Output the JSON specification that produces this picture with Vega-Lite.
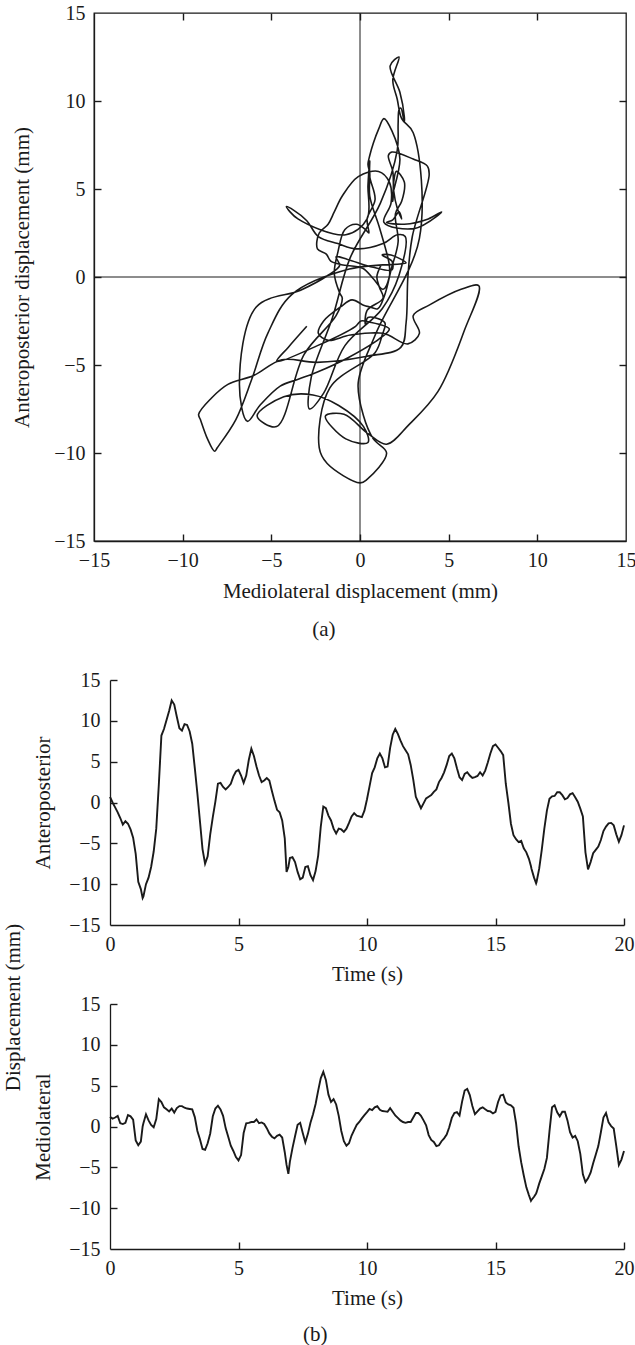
{
  "$schema": "https://vega.github.io/schema/vega-lite/v6.json",
  "padding": {"left": 2, "top": 2, "right": 0, "bottom": 0},
  "background": "white",
  "config": {
    "font": "Liberation Serif",
    "view": {"stroke": null},
    "axis": {
      "labelFont": "Liberation Serif", "titleFont": "Liberation Serif",
      "labelFontSize": 20, "titleFontSize": 21, "titleFontWeight": "normal",
      "labelColor": "#1a1a1a", "titleColor": "#1a1a1a",
      "domainColor": "#1a1a1a", "tickColor": "#1a1a1a",
      "domainWidth": 1.3, "tickWidth": 1.4,
      "labelFlush": false, "grid": false
    },
    "title": {"font": "Liberation Serif", "fontSize": 21, "fontWeight": "normal", "color": "#1a1a1a"}
  },
  "datasets": {
    "sway": [
      {"t":0.0,"ap":0.7,"ml":1.2},{"t":0.1,"ap":0.0,"ml":0.95},{"t":0.2,"ap":-0.6,"ml":1.1},{"t":0.3,"ap":-1.2,"ml":1.3},
      {"t":0.4,"ap":-1.9,"ml":0.4},{"t":0.5,"ap":-2.7,"ml":0.3},{"t":0.6,"ap":-2.3,"ml":0.45},{"t":0.7,"ap":-2.6,"ml":1.4},
      {"t":0.8,"ap":-3.3,"ml":1.25},{"t":0.9,"ap":-4.3,"ml":0.85},{"t":1.0,"ap":-6.3,"ml":-1.7},{"t":1.1,"ap":-9.7,"ml":-2.3},
      {"t":1.2,"ap":-10.6,"ml":-1.85},{"t":1.27,"ap":-11.7,"ml":0.0},{"t":1.3,"ap":-11.5,"ml":0.4},{"t":1.4,"ap":-10.0,"ml":1.5},
      {"t":1.5,"ap":-9.2,"ml":0.75},{"t":1.6,"ap":-7.9,"ml":0.2},{"t":1.7,"ap":-6.0,"ml":-0.1},{"t":1.8,"ap":-3.2,"ml":0.9},
      {"t":1.9,"ap":2.2,"ml":3.35},{"t":2.0,"ap":8.2,"ml":3.0},{"t":2.1,"ap":9.0,"ml":2.35},{"t":2.2,"ap":10.1,"ml":2.1},
      {"t":2.3,"ap":11.2,"ml":1.85},{"t":2.4,"ap":12.5,"ml":2.2},{"t":2.5,"ap":12.0,"ml":1.7},{"t":2.6,"ap":10.5,"ml":2.25},
      {"t":2.7,"ap":9.1,"ml":2.5},{"t":2.8,"ap":8.8,"ml":2.5},{"t":2.9,"ap":9.6,"ml":2.3},{"t":3.0,"ap":9.5,"ml":2.2},
      {"t":3.1,"ap":8.7,"ml":2.15},{"t":3.2,"ap":7.2,"ml":2.1},{"t":3.3,"ap":4.2,"ml":1.15},{"t":3.4,"ap":1.1,"ml":-0.55},
      {"t":3.5,"ap":-2.3,"ml":-1.55},{"t":3.6,"ap":-5.7,"ml":-2.75},{"t":3.7,"ap":-7.5,"ml":-2.85},{"t":3.8,"ap":-6.6,"ml":-2.05},
      {"t":3.9,"ap":-3.9,"ml":-0.85},{"t":4.0,"ap":-1.8,"ml":1.25},{"t":4.1,"ap":0.1,"ml":2.2},{"t":4.2,"ap":2.3,"ml":2.55},
      {"t":4.3,"ap":2.4,"ml":2.1},{"t":4.4,"ap":1.9,"ml":1.3},{"t":4.5,"ap":1.6,"ml":-0.2},{"t":4.6,"ap":1.9,"ml":-1.25},
      {"t":4.7,"ap":2.3,"ml":-2.35},{"t":4.8,"ap":3.2,"ml":-3.0},{"t":4.9,"ap":3.8,"ml":-3.75},{"t":5.0,"ap":4.0,"ml":-4.15},
      {"t":5.1,"ap":3.3,"ml":-3.5},{"t":5.2,"ap":2.4,"ml":-0.8},{"t":5.3,"ap":3.3,"ml":0.4},{"t":5.4,"ap":5.2,"ml":0.45},
      {"t":5.5,"ap":6.6,"ml":0.55},{"t":5.6,"ap":5.7,"ml":0.55},{"t":5.7,"ap":4.4,"ml":0.85},{"t":5.8,"ap":3.3,"ml":0.4},
      {"t":5.9,"ap":2.5,"ml":0.5},{"t":6.0,"ap":2.7,"ml":0.3},{"t":6.1,"ap":3.0,"ml":-0.2},{"t":6.2,"ap":2.7,"ml":-0.85},
      {"t":6.3,"ap":1.4,"ml":-1.25},{"t":6.4,"ap":0.2,"ml":-1.45},{"t":6.5,"ap":-0.9,"ml":-1.15},{"t":6.6,"ap":-1.2,"ml":-1.0},
      {"t":6.7,"ap":-2.2,"ml":-1.35},{"t":6.8,"ap":-4.4,"ml":-3.15},{"t":6.87,"ap":-8.5,"ml":-4.7},{"t":6.94,"ap":-7.9,"ml":-5.8},
      {"t":7.0,"ap":-6.8,"ml":-4.3},{"t":7.1,"ap":-6.7,"ml":-2.65},{"t":7.2,"ap":-7.3,"ml":-1.2},{"t":7.3,"ap":-8.5,"ml":0.2},
      {"t":7.4,"ap":-9.4,"ml":0.45},{"t":7.5,"ap":-9.2,"ml":-0.8},{"t":7.6,"ap":-7.9,"ml":-1.95},{"t":7.7,"ap":-7.8,"ml":-0.9},
      {"t":7.8,"ap":-8.9,"ml":0.45},{"t":7.9,"ap":-9.5,"ml":1.5},{"t":8.0,"ap":-8.4,"ml":2.75},{"t":8.1,"ap":-6.5,"ml":4.4},
      {"t":8.2,"ap":-3.0,"ml":5.9},{"t":8.3,"ap":-0.5,"ml":6.7},{"t":8.4,"ap":-0.7,"ml":5.7},{"t":8.5,"ap":-1.6,"ml":3.9},
      {"t":8.6,"ap":-2.2,"ml":3.0},{"t":8.7,"ap":-3.2,"ml":3.35},{"t":8.8,"ap":-3.8,"ml":2.7},{"t":8.9,"ap":-3.2,"ml":1.3},
      {"t":9.0,"ap":-3.3,"ml":-0.55},{"t":9.1,"ap":-3.6,"ml":-1.8},{"t":9.2,"ap":-3.2,"ml":-2.35},{"t":9.3,"ap":-2.5,"ml":-2.05},
      {"t":9.4,"ap":-1.7,"ml":-1.1},{"t":9.5,"ap":-1.3,"ml":-0.45},{"t":9.6,"ap":-1.6,"ml":0.2},{"t":9.7,"ap":-1.7,"ml":0.55},
      {"t":9.8,"ap":-1.8,"ml":1.0},{"t":9.9,"ap":-1.0,"ml":1.4},{"t":10.0,"ap":0.4,"ml":1.75},{"t":10.1,"ap":2.0,"ml":2.15},
      {"t":10.2,"ap":3.6,"ml":2.0},{"t":10.3,"ap":4.3,"ml":2.35},{"t":10.4,"ap":5.4,"ml":2.5},{"t":10.5,"ap":6.0,"ml":2.05},
      {"t":10.6,"ap":5.4,"ml":1.9},{"t":10.7,"ap":4.3,"ml":1.85},{"t":10.8,"ap":4.4,"ml":1.8},{"t":10.9,"ap":6.7,"ml":2.25},
      {"t":11.0,"ap":8.3,"ml":1.8},{"t":11.1,"ap":9.0,"ml":1.35},{"t":11.2,"ap":8.4,"ml":1.05},{"t":11.3,"ap":7.6,"ml":0.75},
      {"t":11.4,"ap":6.9,"ml":0.55},{"t":11.5,"ap":6.4,"ml":0.45},{"t":11.6,"ap":5.9,"ml":0.55},{"t":11.7,"ap":4.6,"ml":0.55},
      {"t":11.8,"ap":2.8,"ml":1.1},{"t":11.9,"ap":0.7,"ml":1.65},{"t":12.0,"ap":0.0,"ml":1.65},{"t":12.1,"ap":-0.7,"ml":1.3},
      {"t":12.2,"ap":-0.1,"ml":0.75},{"t":12.3,"ap":0.5,"ml":0.15},{"t":12.4,"ap":0.7,"ml":-1.05},{"t":12.5,"ap":0.9,"ml":-1.65},
      {"t":12.6,"ap":1.3,"ml":-1.9},{"t":12.7,"ap":1.6,"ml":-2.4},{"t":12.8,"ap":2.5,"ml":-2.3},{"t":12.9,"ap":3.0,"ml":-1.8},
      {"t":13.0,"ap":3.7,"ml":-1.45},{"t":13.1,"ap":4.6,"ml":-1.0},{"t":13.2,"ap":5.7,"ml":-0.1},{"t":13.3,"ap":6.0,"ml":1.05},
      {"t":13.4,"ap":5.4,"ml":1.65},{"t":13.5,"ap":4.2,"ml":1.75},{"t":13.6,"ap":3.1,"ml":1.35},{"t":13.7,"ap":2.75,"ml":3.05},
      {"t":13.8,"ap":3.5,"ml":4.4},{"t":13.9,"ap":3.7,"ml":4.6},{"t":14.0,"ap":3.3,"ml":3.85},{"t":14.1,"ap":3.0,"ml":2.5},
      {"t":14.2,"ap":3.1,"ml":1.5},{"t":14.3,"ap":3.25,"ml":1.85},{"t":14.4,"ap":3.7,"ml":2.2},{"t":14.5,"ap":3.3,"ml":2.35},
      {"t":14.6,"ap":3.9,"ml":2.1},{"t":14.7,"ap":4.9,"ml":1.9},{"t":14.8,"ap":6.0,"ml":1.85},{"t":14.9,"ap":6.9,"ml":1.6},
      {"t":15.0,"ap":7.1,"ml":1.8},{"t":15.1,"ap":6.7,"ml":3.0},{"t":15.2,"ap":6.3,"ml":3.8},{"t":15.3,"ap":5.8,"ml":3.9},
      {"t":15.4,"ap":2.3,"ml":2.95},{"t":15.5,"ap":0.0,"ml":2.7},{"t":15.6,"ap":-2.6,"ml":2.6},{"t":15.7,"ap":-4.0,"ml":2.3},
      {"t":15.8,"ap":-4.5,"ml":0.4},{"t":15.9,"ap":-4.85,"ml":-2.45},{"t":16.0,"ap":-4.7,"ml":-4.4},{"t":16.1,"ap":-5.6,"ml":-6.0},
      {"t":16.2,"ap":-6.1,"ml":-7.45},{"t":16.3,"ap":-6.9,"ml":-8.4},{"t":16.38,"ap":-7.8,"ml":-9.1},{"t":16.4,"ap":-8.1,"ml":-9.0},
      {"t":16.5,"ap":-9.2,"ml":-8.6},{"t":16.58,"ap":-9.9,"ml":-8.2},{"t":16.6,"ap":-9.7,"ml":-8.05},{"t":16.7,"ap":-8.1,"ml":-7.0},
      {"t":16.8,"ap":-5.8,"ml":-6.1},{"t":16.9,"ap":-3.2,"ml":-5.2},{"t":17.0,"ap":-1.0,"ml":-3.85},{"t":17.1,"ap":0.45,"ml":-0.6},
      {"t":17.2,"ap":0.75,"ml":2.35},{"t":17.3,"ap":0.8,"ml":2.6},{"t":17.4,"ap":1.25,"ml":1.75},{"t":17.5,"ap":1.25,"ml":1.25},
      {"t":17.6,"ap":0.9,"ml":1.8},{"t":17.7,"ap":0.4,"ml":1.8},{"t":17.8,"ap":0.55,"ml":0.75},{"t":17.9,"ap":1.0,"ml":-0.7},
      {"t":18.0,"ap":1.15,"ml":-1.35},{"t":18.1,"ap":0.65,"ml":-1.15},{"t":18.2,"ap":0.1,"ml":-1.8},{"t":18.3,"ap":-0.75,"ml":-3.35},
      {"t":18.4,"ap":-1.7,"ml":-5.85},{"t":18.5,"ap":-6.1,"ml":-6.8},{"t":18.6,"ap":-8.2,"ml":-6.35},{"t":18.7,"ap":-7.3,"ml":-5.65},
      {"t":18.8,"ap":-6.2,"ml":-4.5},{"t":18.9,"ap":-5.8,"ml":-3.45},{"t":19.0,"ap":-5.4,"ml":-2.4},{"t":19.1,"ap":-4.6,"ml":-0.7},
      {"t":19.2,"ap":-3.5,"ml":1.1},{"t":19.3,"ap":-2.95,"ml":1.65},{"t":19.4,"ap":-2.55,"ml":0.5},{"t":19.5,"ap":-2.5,"ml":0.05},
      {"t":19.6,"ap":-2.8,"ml":-0.25},{"t":19.7,"ap":-3.9,"ml":-2.4},{"t":19.8,"ap":-4.8,"ml":-4.7},{"t":19.9,"ap":-4.0,"ml":-4.05},
      {"t":20.0,"ap":-2.8,"ml":-3.0}
    ]
  },
  "spacing": 29,
  "vconcat": [
    {
      "width": 532,
      "height": 528,
      "view": {"stroke": "#1a1a1a", "strokeWidth": 1.3},
      "title": {"text": "(a)", "orient": "bottom", "anchor": "middle", "frame": "bounds", "offset": 18},
      "layer": [
        {
          "data": {"values": [{}]},
          "mark": {"type": "rule", "color": "#1a1a1a", "strokeWidth": 1},
          "encoding": {
            "x": {"datum": 0, "type": "quantitative", "scale": {"domain": [-15, 15], "nice": false, "zero": false}, "axis": null}
          }
        },
        {
          "data": {"values": [{}]},
          "mark": {"type": "rule", "color": "#1a1a1a", "strokeWidth": 1},
          "encoding": {
            "y": {"datum": 0, "type": "quantitative", "scale": {"domain": [-15, 15], "nice": false, "zero": false}, "axis": null}
          }
        },
        {
          "data": {"name": "sway"},
          "mark": {"type": "line", "color": "#1a1a1a", "strokeWidth": 1.6, "interpolate": "catmull-rom"},
          "encoding": {
            "x": {
              "field": "ml", "type": "quantitative",
              "scale": {"domain": [-15, 15], "nice": false, "zero": false},
              "axis": {"ticks": false, "labelPadding": 9, "values": [-15, -10, -5, 0, 5, 10, 15], "title": "Mediolateral displacement (mm)", "titlePadding": 10}
            },
            "y": {
              "field": "ap", "type": "quantitative",
              "scale": {"domain": [-15, 15], "nice": false, "zero": false},
              "axis": {"ticks": false, "labelPadding": 9, "values": [-15, -10, -5, 0, 5, 10, 15], "title": "Anteroposterior displacement (mm)", "titlePadding": 21}
            },
            "order": {"field": "t", "type": "quantitative"}
          }
        },
        {
          "data": {"name": "sway"},
          "mark": {"type": "line", "opacity": 0},
          "encoding": {
            "x": {
              "field": "ml", "type": "quantitative",
              "scale": {"domain": [-15, 15], "nice": false, "zero": false},
              "axis": {"offset": -7, "tickSize": 7, "labels": false, "domain": false, "title": null, "values": [-10, -5, 0, 5, 10]}
            },
            "y": {
              "field": "ap", "type": "quantitative",
              "scale": {"domain": [-15, 15], "nice": false, "zero": false},
              "axis": {"offset": -7, "tickSize": 7, "labels": false, "domain": false, "title": null, "values": [-10, -5, 0, 5, 10]}
            },
            "order": {"field": "t", "type": "quantitative"}
          }
        },
        {
          "data": {"name": "sway"},
          "mark": {"type": "line", "opacity": 0},
          "encoding": {
            "x": {
              "field": "ml", "type": "quantitative",
              "scale": {"domain": [-15, 15], "nice": false, "zero": false},
              "axis": {"offset": -528, "tickSize": 7, "labels": false, "domain": false, "title": null, "values": [-10, -5, 0, 5, 10]}
            },
            "y": {
              "field": "ap", "type": "quantitative",
              "scale": {"domain": [-15, 15], "nice": false, "zero": false},
              "axis": {"offset": -532, "tickSize": 7, "labels": false, "domain": false, "title": null, "values": [-10, -5, 0, 5, 10]}
            },
            "order": {"field": "t", "type": "quantitative"}
          }
        }
      ],
      "resolve": {"axis": {"x": "independent", "y": "independent"}}
    },
    {
      "title": {"text": "Displacement (mm)", "orient": "left", "anchor": "middle", "offset": 9},
      "spacing": 10,
      "vconcat": [
        {
          "width": 530,
          "height": 245,
          "data": {"name": "sway"},
          "layer": [
            {
              "mark": {"type": "line", "color": "#1a1a1a", "strokeWidth": 1.9},
              "encoding": {
                "x": {
                  "field": "t", "type": "quantitative",
                  "scale": {"domain": [0, 20], "range": [16, 530], "nice": false, "zero": false},
                  "axis": {"ticks": false, "labelPadding": 9, "values": [0, 5, 10, 15, 20], "title": "Time (s)", "titlePadding": 9}
                },
                "y": {
                  "field": "ap", "type": "quantitative",
                  "scale": {"domain": [-15, 15], "nice": false, "zero": false},
                  "axis": {"ticks": false, "labelPadding": 10, "offset": -16, "values": [-15, -10, -5, 0, 5, 10, 15], "title": "Anteroposterior", "titlePadding": 15}
                }
              }
            },
            {
              "mark": {"type": "line", "opacity": 0},
              "encoding": {
                "x": {
                  "field": "t", "type": "quantitative",
                  "scale": {"domain": [0, 20], "range": [16, 530], "nice": false, "zero": false},
                  "axis": {"offset": -245, "tickSize": 7, "labels": false, "domain": false, "title": null, "values": [5, 10, 15, 20]}
                },
                "y": {
                  "field": "ap", "type": "quantitative",
                  "scale": {"domain": [-15, 15], "nice": false, "zero": false},
                  "axis": {"offset": -514, "tickSize": 7, "labels": false, "domain": false, "title": null, "values": [-10, -5, 0, 5, 10, 15]}
                }
              }
            }
          ],
          "resolve": {"axis": {"x": "independent", "y": "independent"}}
        },
        {
          "width": 530,
          "height": 245,
          "title": {"text": "(b)", "orient": "bottom", "anchor": "middle", "frame": "bounds", "offset": 16, "dx": -18},
          "data": {"name": "sway"},
          "layer": [
            {
              "mark": {"type": "line", "color": "#1a1a1a", "strokeWidth": 1.9},
              "encoding": {
                "x": {
                  "field": "t", "type": "quantitative",
                  "scale": {"domain": [0, 20], "range": [16, 530], "nice": false, "zero": false},
                  "axis": {"ticks": false, "labelPadding": 9, "values": [0, 5, 10, 15, 20], "title": "Time (s)", "titlePadding": 9}
                },
                "y": {
                  "field": "ml", "type": "quantitative",
                  "scale": {"domain": [-15, 15], "nice": false, "zero": false},
                  "axis": {"ticks": false, "labelPadding": 10, "offset": -16, "values": [-15, -10, -5, 0, 5, 10, 15], "title": "Mediolateral", "titlePadding": 15}
                }
              }
            },
            {
              "mark": {"type": "line", "opacity": 0},
              "encoding": {
                "x": {
                  "field": "t", "type": "quantitative",
                  "scale": {"domain": [0, 20], "range": [16, 530], "nice": false, "zero": false},
                  "axis": {"offset": -245, "tickSize": 7, "labels": false, "domain": false, "title": null, "values": [5, 10, 15, 20]}
                },
                "y": {
                  "field": "ml", "type": "quantitative",
                  "scale": {"domain": [-15, 15], "nice": false, "zero": false},
                  "axis": {"offset": -514, "tickSize": 7, "labels": false, "domain": false, "title": null, "values": [-10, -5, 0, 5, 10, 15]}
                }
              }
            }
          ],
          "resolve": {"axis": {"x": "independent", "y": "independent"}}
        }
      ]
    }
  ]
}
